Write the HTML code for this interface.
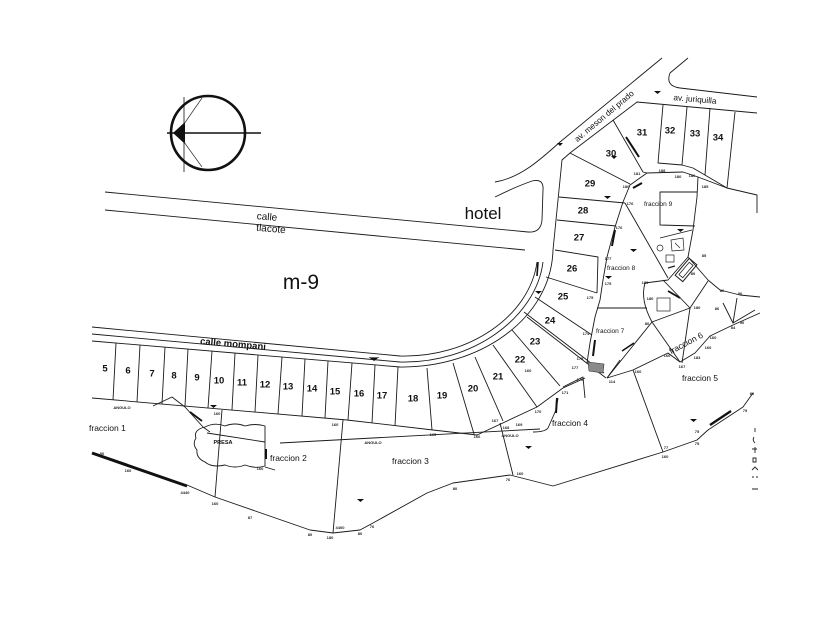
<!DOCTYPE html>
<html><head><meta charset="utf-8"><style>
html,body{margin:0;padding:0;background:#fff;}
svg{display:block;}
.l{stroke:#1a1a1a;stroke-width:0.9;fill:none;stroke-linejoin:round;}
.k{stroke:#111;fill:none;}
.t{font-family:"Liberation Sans",Arial,sans-serif;fill:#111;}
.n{font-family:"Liberation Sans",Arial,sans-serif;fill:#111;font-size:9.5px;font-weight:bold;text-anchor:middle;}
.s{font-family:"Liberation Sans",Arial,sans-serif;fill:#222;font-size:4px;font-weight:bold;text-anchor:middle;}
.m{fill:#111;}
</style></head><body>
<svg width="840" height="630" viewBox="0 0 840 630" xmlns="http://www.w3.org/2000/svg">
<rect width="840" height="630" fill="#fff"/>

<!-- compass -->
<circle cx="208" cy="133" r="37" fill="none" stroke="#111" stroke-width="2.6"/>
<line x1="167" y1="133" x2="261" y2="133" stroke="#111" stroke-width="1.4"/>
<line x1="184" y1="97" x2="184" y2="172" stroke="#111" stroke-width="0.8"/>
<polygon points="173,133 185,122 185,144" fill="#111"/>
<line x1="184" y1="124" x2="202" y2="98" stroke="#333" stroke-width="0.7"/>
<line x1="184" y1="142" x2="202" y2="167" stroke="#333" stroke-width="0.7"/>

<!-- calle tlacote / hotel -->
<path class="l" d="M105,192 L528,232 Q541,233 542,220 L543,190 Q544,178 532,181 Q515,187 495,197"/>
<path class="l" d="M105,210 L525,250"/>
<path class="l" d="M495,182 C520,178 540,160 560,142 L662,58"/>
<path class="l" d="M688,58 L670,73 Q665,86 680,88 L757,97"/>

<!-- calle mompani road & lot line -->
<path class="l" d="M92,327 L400,356 C470,358 530,315 537,262"/>
<path class="l" d="M92,334 L400,362 C472,364 536,318 543,262"/>
<path class="l" d="M92,341 L400,367 C478,368 551,320 553,250 L562,160 L570,153 L637,102 L757,113"/>
<line x1="538" y1="262" x2="537" y2="276" stroke="#111" stroke-width="1.6"/>

<!-- lots bottom line -->
<path class="l" d="M92,398 L347,420 L433,430 L477,435 L537,407 L563,388 L585,378"/>

<!-- lot dividers 5-18 -->
<path class="l" d="M116,343 L113,400 M140,345 L137,402 M165,347 L162,404 M188,349 L185,406 M212,351 L208,408 M235,353 L232,410 M258,355 L255,412 M282,357 L278,414 M305,359 L302,416 M328,361 L325,418 M352,363 L348,420 M375,365 L372,423 M398,367 L395,426"/>
<!-- curved lots -->
<path class="l" d="M427,368 L432,430 M453,363 L474,434 M475,357 L503,421 M493,345 L537,407 M512,330 L560,386"/>
<path class="l" d="M524,312 L604,373 M527,317 L606,378"/>
<path class="l" d="M535,297 L592,335 M546,277 L597,293 M555,250 L598,257 L597,293 M557,220 L616,226 M559,197 L625,203 M570,153 L630,184"/>
<!-- east curve of lots -->
<path class="l" d="M647,173 L630,185 L623,202 L615,227 L607,257 L603,280 L600,300 L595,317 L590,343 L587,363"/>
<!-- hatched rect -->
<polygon points="588,362 604,364 603,373 589,371" fill="#8a8a8a" stroke="#333" stroke-width="0.6"/>

<!-- lots 30-34 -->
<path class="l" d="M613,120 L643,172 L647,173"/>
<line x1="626" y1="137" x2="639" y2="157" stroke="#111" stroke-width="2"/>
<path class="l" d="M663,105 L658,163 L682,165 L693,168 L727,188 M687,107 L682,165 M710,108 L705,175 M735,112 L727,188"/>
<path class="l" d="M647,173 L683,172 L698,177 L727,188 L757,195 L757,213"/>

<!-- fraccion 9 -->
<path class="l" d="M698,177 L697,197 L693,230 L688,257"/>
<path class="l" d="M697,192 L660,192 L660,225 L695,226"/>
<path class="l" d="M625,203 L668,278"/>
<path class="l" d="M660,238 L692,230"/>
<line x1="633" y1="188" x2="642" y2="183" stroke="#111" stroke-width="2"/>
<line x1="615" y1="230" x2="612" y2="246" stroke="#111" stroke-width="2"/>
<line x1="595" y1="340" x2="593" y2="356" stroke="#111" stroke-width="2"/>

<!-- small features fraccion 8 -->
<circle cx="660" cy="248" r="3" fill="none" stroke="#222" stroke-width="0.7"/>
<rect x="666" y="255" width="8" height="7" fill="none" stroke="#222" stroke-width="0.7"/>
<path d="M671,240 L683,238 L684,250 L672,251 Z M675,243 L680,248" fill="none" stroke="#222" stroke-width="0.7"/>
<g transform="translate(686,270) rotate(-50)">
<rect x="-11" y="-5" width="22" height="10" fill="none" stroke="#222" stroke-width="1"/>
<rect x="-8" y="-2.5" width="16" height="5" fill="none" stroke="#222" stroke-width="0.8"/>
</g>
<line x1="668" y1="268" x2="675" y2="266" stroke="#222" stroke-width="1.2"/>

<!-- fraccion 6 / 7 / 8 region -->
<path class="l" d="M688,257 L668,280 L645,283 Q640,300 652,322"/>
<path class="l" d="M688,257 L708,280 L720,290 L740,295 L760,297"/>
<path class="l" d="M597,308 L647,308"/>
<path class="l" d="M663,280 L690,308 L708,281"/>
<path class="l" d="M652,322 L690,308 L682,363"/>
<path class="l" d="M652,322 L680,362"/>
<path class="l" d="M652,322 L607,378"/>
<rect x="657" y="298" width="13" height="13" fill="none" stroke="#222" stroke-width="0.7"/>
<line x1="668" y1="291" x2="680" y2="298" stroke="#111" stroke-width="1.8"/>
<line x1="622" y1="351" x2="634" y2="343" stroke="#111" stroke-width="1.6"/>
<path class="l" d="M607,378 L633,370 L668,353 L680,362 L695,353 L710,336 L733,325 L760,313"/>
<path class="l" d="M723,303 L733,323 L737,298 M733,323 L755,310"/>
<path class="l" d="M607,378 L620,360"/>

<!-- fraccion 4 / 5 -->
<path class="l" d="M633,370 L663,452"/>
<path class="l" d="M563,387 L583,377 L585,398"/>
<path class="l" d="M558,398 L556,410 L548,428 Q545,432 533,432"/>
<line x1="557" y1="398" x2="556" y2="413" stroke="#111" stroke-width="2"/>
<path class="l" d="M500,423 L513,475"/>

<!-- south boundary -->
<line x1="92" y1="453" x2="187" y2="486" stroke="#111" stroke-width="3"/>
<path class="l" d="M187,485 L215,497 L310,530 L333,533 L360,530 L373,523 L427,493 L453,483 L510,475 L553,486 L663,452 L697,440 L708,430 L743,407 L753,393"/>
<line x1="710" y1="425" x2="731" y2="411" stroke="#111" stroke-width="2.4"/>

<!-- fraccion 1/2/3 -->
<path class="l" d="M222,410 L215,497"/>
<path class="l" d="M343,420 L333,533"/>
<path class="l" d="M280,443 L540,429"/>
<path class="l" d="M153,406 L172,397 L185,407 L203,427 L210,432"/>
<line x1="190" y1="412" x2="202" y2="421" stroke="#111" stroke-width="1.8"/>
<!-- presa -->
<path class="l" d="M205,427 Q215,422 225,426 Q235,422 245,426 Q255,423 265,426 L265,466 Q255,469 245,465 Q235,469 225,465 Q212,468 205,462 Q196,458 197,450 Q192,444 196,438 Q193,430 205,427 Z"/>
<path class="l" d="M207,433 L265,442 M265,467 L275,470"/>
<line x1="266" y1="449" x2="266" y2="459" stroke="#111" stroke-width="2"/>

<!-- right-edge marks -->
<path d="M755,428 L755,432 M754,437 Q752,440 755,443 M752,449 L757,449 M755,447 L755,453 M753,458 L756,458 L756,462 L753,462 Z M752,470 L755,467 L758,470 M752,477 L754,477 M756,477 L758,477 M752,489 L758,489" stroke="#222" stroke-width="0.9" fill="none"/>

<!-- ▼ markers -->
<g class="m">
<path d="M370,358 h8 l-4,3 z M369,357 h10 v0.6 h-10z"/>
<path d="M210,405 h7 l-3.5,3 z"/>
<path d="M654,91 h7 l-3.5,3 z"/>
<path d="M557,143 h6 l-3,3 z"/>
<path d="M604,196 h7 l-3.5,3 z"/>
<path d="M630,249 h7 l-3.5,3 z"/>
<path d="M605,276 h7 l-3.5,3 z"/>
<path d="M677,229 h7 l-3.5,3 z"/>
<path d="M535,291 h7 l-3.5,3 z"/>
<path d="M690,419 h7 l-3.5,3 z"/>
<path d="M525,446 h7 l-3.5,3 z"/>
<path d="M357,499 h7 l-3.5,3 z"/>
<path d="M611,156 h6 l-3,3 z"/>
</g>

<!-- main labels -->
<text class="t" x="267" y="220" font-size="10" text-anchor="middle" transform="rotate(5 267 217)">calle</text>
<text class="t" x="271" y="232" font-size="10" text-anchor="middle" transform="rotate(5 271 229)">tlacote</text>
<text class="t" x="483" y="219" font-size="17" text-anchor="middle">hotel</text>
<text class="t" x="301" y="289" font-size="21" text-anchor="middle">m-9</text>
<text class="t" x="233" y="347" font-size="9.5" font-weight="bold" text-anchor="middle" transform="rotate(5 233 344)">calle mompani</text>
<text class="t" x="604" y="119" font-size="8.3" text-anchor="middle" transform="rotate(-40 604 116)">av. meson del prado</text>
<text class="t" x="695" y="102" font-size="8.3" text-anchor="middle" transform="rotate(5 695 99)">av. juriquilla</text>

<text class="t" x="89" y="431" font-size="8.5">fraccion 1</text>
<text class="t" x="270" y="461" font-size="8.5">fraccion 2</text>
<text class="t" x="392" y="464" font-size="8.5">fraccion 3</text>
<text class="t" x="552" y="426" font-size="8.3">fraccion 4</text>
<text class="t" x="682" y="381" font-size="8.3">fraccion 5</text>
<text class="t" x="686" y="346" font-size="8.5" text-anchor="middle" transform="rotate(-28 686 343)">fraccion 6</text>
<text class="t" x="596" y="333" font-size="6.5">fraccion 7</text>
<text class="t" x="607" y="270" font-size="6.5">fraccion 8</text>
<text class="t" x="644" y="206" font-size="6.5">fraccion 9</text>
<text class="t" x="223" y="444" font-size="5.5" font-weight="bold" text-anchor="middle">PRESA</text>

<!-- lot numbers -->
<text class="n" x="105" y="371.5">5</text>
<text class="n" x="128" y="373.5">6</text>
<text class="n" x="152" y="376.5">7</text>
<text class="n" x="174" y="378.5">8</text>
<text class="n" x="197" y="380.5">9</text>
<text class="n" x="219" y="383.5">10</text>
<text class="n" x="242" y="385.5">11</text>
<text class="n" x="265" y="387.5">12</text>
<text class="n" x="288" y="389.5">13</text>
<text class="n" x="312" y="391.5">14</text>
<text class="n" x="335" y="394.5">15</text>
<text class="n" x="359" y="396.5">16</text>
<text class="n" x="382" y="398.5">17</text>
<text class="n" x="413" y="401.5">18</text>
<text class="n" x="442" y="398.5">19</text>
<text class="n" x="473" y="391.5">20</text>
<text class="n" x="498" y="379.5">21</text>
<text class="n" x="520" y="362.5">22</text>
<text class="n" x="535" y="344.5">23</text>
<text class="n" x="550" y="323.5">24</text>
<text class="n" x="563" y="299.5">25</text>
<text class="n" x="572" y="271.5">26</text>
<text class="n" x="579" y="240.5">27</text>
<text class="n" x="583" y="213.5">28</text>
<text class="n" x="590" y="186.5">29</text>
<text class="n" x="611" y="156.5">30</text>
<text class="n" x="642" y="135.5">31</text>
<text class="n" x="670" y="133.5">32</text>
<text class="n" x="695" y="136.5">33</text>
<text class="n" x="718" y="140.5">34</text>

<!-- tiny survey labels -->
<g class="s">
<text x="122" y="409">ANGULO</text>
<text x="217" y="415">160</text>
<text x="335" y="426">160</text>
<text x="433" y="436">165</text>
<text x="477" y="438">166</text>
<text x="495" y="422">167</text>
<text x="506" y="429">168</text>
<text x="519" y="426">169</text>
<text x="510" y="437">ANGULO</text>
<text x="520" y="475">160</text>
<text x="508" y="481">76</text>
<text x="455" y="490">80</text>
<text x="372" y="528">76</text>
<text x="360" y="535">80</text>
<text x="340" y="529">4400</text>
<text x="330" y="539">180</text>
<text x="310" y="536">80</text>
<text x="250" y="519">87</text>
<text x="215" y="505">160</text>
<text x="185" y="494">4440</text>
<text x="128" y="472">160</text>
<text x="102" y="455">80</text>
<text x="260" y="470">160</text>
<text x="373" y="444">ANGULO</text>
<text x="575" y="369">177</text>
<text x="580" y="381">175</text>
<text x="565" y="394">171</text>
<text x="538" y="413">170</text>
<text x="612" y="383">114</text>
<text x="638" y="373">160</text>
<text x="666" y="449">77</text>
<text x="665" y="458">160</text>
<text x="697" y="433">75</text>
<text x="697" y="445">75</text>
<text x="745" y="412">79</text>
<text x="752" y="395">80</text>
<text x="682" y="368">167</text>
<text x="667" y="357">160</text>
<text x="697" y="359">183</text>
<text x="637" y="175">181</text>
<text x="662" y="172">188</text>
<text x="678" y="178">180</text>
<text x="692" y="177">186</text>
<text x="705" y="188">185</text>
<text x="626" y="188">180</text>
<text x="630" y="205">176</text>
<text x="619" y="229">176</text>
<text x="608" y="260">177</text>
<text x="608" y="285">175</text>
<text x="590" y="299">175</text>
<text x="586" y="335">174</text>
<text x="580" y="360">175</text>
<text x="645" y="284">180</text>
<text x="650" y="300">180</text>
<text x="647" y="325">80</text>
<text x="697" y="309">180</text>
<text x="693" y="275">80</text>
<text x="704" y="257">85</text>
<text x="717" y="310">86</text>
<text x="722" y="292">86</text>
<text x="740" y="295">80</text>
<text x="733" y="329">84</text>
<text x="742" y="324">90</text>
<text x="713" y="339">160</text>
<text x="708" y="349">160</text>
<text x="528" y="372">160</text>
</g>
</svg>
</body></html>
